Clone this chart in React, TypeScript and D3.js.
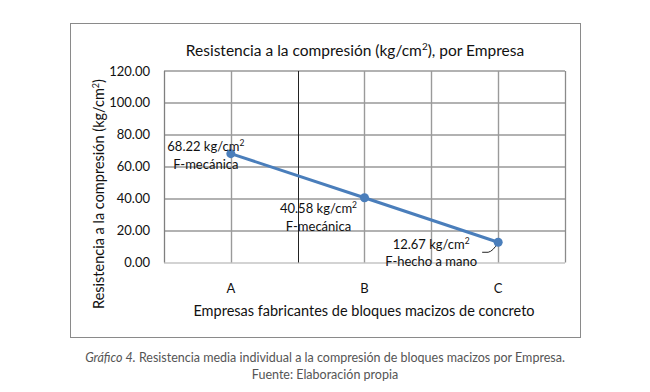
import React from "react";
import * as d3 from "d3";

const categories = ["A", "B", "C"];
const values = [68.22, 40.58, 12.67];
const labelValues = ["68.22 kg/cm", "40.58 kg/cm", "12.67 kg/cm"];
const labelTypes = ["F-mecánica", "F-mecánica", "F-hecho a mano"];
const yTicks = [0, 20, 40, 60, 80, 100, 120];

// label offsets (px) relative to point: [dx, dy line1]
const labelOffsets = [
  [-25, -7],
  [-46, 11],
  [-67, 2],
];

const FONT = "Lato, 'Open Sans', sans-serif";

export default function App() {
  const W = 650;
  const H = 392;
  const plotL = 164;
  const plotR = 565;
  const plotT = 71;
  const plotB = 262.5;

  const x = d3.scaleBand<string>().domain(categories).range([plotL, plotR]).padding(0);
  const y = d3.scaleLinear().domain([0, 120]).range([plotB, plotT]);
  const cx = (c: string) => (x(c) as number) + x.bandwidth() / 2;

  const pts: [number, number][] = categories.map((c, i) => [cx(c), y(values[i])]);
  const line = d3.line<[number, number]>()(pts) as string;

  const vLines: { x: number; dark: boolean }[] = [];
  categories.forEach((c, i) => {
    vLines.push({ x: cx(c), dark: false });
    if (i < categories.length - 1) vLines.push({ x: (x(c) as number) + x.bandwidth(), dark: i === 0 });
  });

  const cPt = pts[2];

  return (
    <svg
      width={W}
      height={H}
      style={{ position: "absolute", left: 0, top: 0, background: "#fff" }}
      fontFamily={FONT}
    >
      <rect x={70.5} y={23.5} width={510} height={314} fill="#fff" stroke="#8a8a8a" strokeWidth={1} />
      <text x={355} y={56} textAnchor="middle" fontSize={15.5} fill="#111">
        Resistencia a la compresión (kg/cm
        <tspan fontSize={10} dy={-6}>2</tspan>
        <tspan dy={6}>), por Empresa</tspan>
      </text>

      {/* horizontal grid */}
      {yTicks.map((t) => (
        <line key={t} x1={plotL} x2={plotR} y1={Math.round(y(t))} y2={Math.round(y(t))} stroke={t === 0 ? "#c4c4c4" : "#989898"} strokeWidth={1.4} />
      ))}
      {/* vertical grid */}
      {vLines.map((v, i) => (
        <line key={i} x1={Math.round(v.x) + 0.5} x2={Math.round(v.x) + 0.5} y1={plotT} y2={plotB} stroke={v.dark ? "#222" : "#9a9a9a"} strokeWidth={v.dark ? 1 : 1.4} />
      ))}
      <line x1={plotL + 0.5} x2={plotL + 0.5} y1={plotT} y2={plotB} stroke="#7f7f7f" strokeWidth={1.3} />
      <line x1={plotR + 0.5} x2={plotR + 0.5} y1={plotT} y2={plotB} stroke="#8a8a8a" strokeWidth={1.3} />

      {/* y tick labels */}
      {yTicks.map((t) => (
        <text key={t} x={150} y={y(t) + 4.5} textAnchor="end" fontSize={13} fill="#111">
          {t.toFixed(2)}
        </text>
      ))}
      {/* x tick labels */}
      {categories.map((c) => (
        <text key={c} x={cx(c)} y={293} textAnchor="middle" fontSize={13} fill="#111">
          {c}
        </text>
      ))}

      <text x={364} y={316} textAnchor="middle" fontSize={14.5} fill="#111">
        Empresas fabricantes de bloques macizos de concreto
      </text>
      <text transform="translate(104,194) rotate(-90)" textAnchor="middle" fontSize={14.5} fill="#111">
        Resistencia a la compresión (kg/cm
        <tspan fontSize={9} dy={-5}>2</tspan>
        <tspan dy={5}>)</tspan>
      </text>

      {/* leader line for C */}
      <path d={`M${cPt[0] - 16},${cPt[1] + 10} L${cPt[0] - 10},${cPt[1] + 10} Q${cPt[0] - 5},${cPt[1] + 9} ${cPt[0]},${cPt[1]}`} fill="none" stroke="#222" strokeWidth={1} />

      <path d={line} fill="none" stroke="#4a7ebb" strokeWidth={3} />
      {pts.map((p, i) => (
        <circle key={i} cx={p[0]} cy={p[1]} r={4.5} fill="#4a7ebb" />
      ))}

      {/* data labels */}
      {pts.map((p, i) => (
        <g key={i}>
          <text x={p[0] + labelOffsets[i][0]} y={p[1] + labelOffsets[i][1] + 4.5} textAnchor="middle" fontSize={13} fill="#111">
            {labelValues[i]}
            <tspan fontSize={8.5} dy={-5}>2</tspan>
          </text>
          <text x={p[0] + labelOffsets[i][0]} y={p[1] + labelOffsets[i][1] + 22} textAnchor="middle" fontSize={13} fill="#111">
            {labelTypes[i]}
          </text>
        </g>
      ))}

      {/* caption */}
      <text x={325} y={362} textAnchor="middle" fontSize={12.5} fill="#555">
        <tspan fontStyle="italic">Gráfico 4.</tspan> Resistencia media individual a la compresión de bloques macizos por Empresa.
      </text>
      <text x={325} y={379} textAnchor="middle" fontSize={12.5} fill="#555">
        Fuente: Elaboración propia
      </text>
    </svg>
  );
}
